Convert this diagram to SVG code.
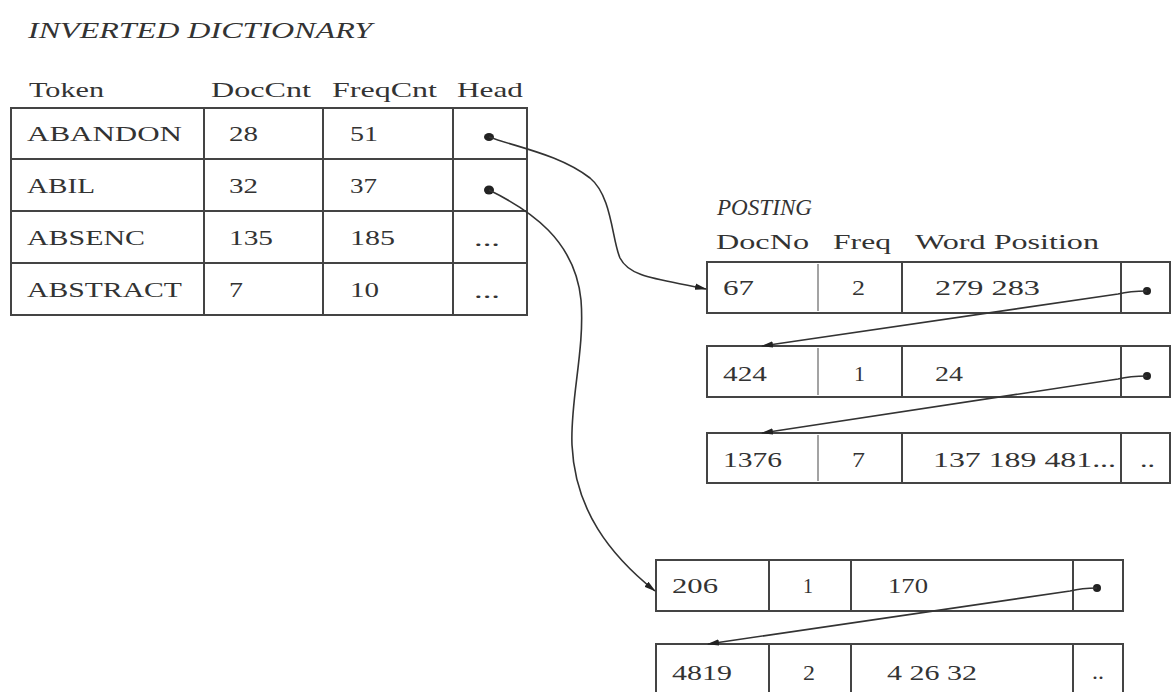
<svg xmlns="http://www.w3.org/2000/svg" width="1171" height="692" viewBox="0 0 1171 692">
  <style>
    .t { font-family: "Liberation Serif", "Times New Roman", serif; font-size: 22px; fill: #333; }
    .ti { font-family: "Liberation Serif", "Times New Roman", serif; font-size: 24px; font-style: italic; fill: #333; }
    .box { fill: #fff; stroke: #444; stroke-width: 2; }
    .div { stroke: #444; stroke-width: 2; }
    .thin { stroke: #666; stroke-width: 1.2; }
    .conn { fill: none; stroke: #333; stroke-width: 1.6; }
    .dot { fill: #222; }
  </style>
  <defs>
    <marker id="arr" markerWidth="12" markerHeight="8" refX="11" refY="4" orient="auto" markerUnits="userSpaceOnUse">
      <path d="M0,0.8 L12,4 L0,7.2 Z" fill="#222"/>
    </marker>
  </defs>
  <rect width="1171" height="692" fill="#fff"/>

  <g id="dict-title">
    <text class="ti" x="28" y="38" textLength="344" lengthAdjust="spacingAndGlyphs">INVERTED DICTIONARY</text>
  </g>
  <g id="dict-header">
    <text class="t" x="29" y="97" textLength="75" lengthAdjust="spacingAndGlyphs">Token</text>
    <text class="t" x="211" y="97" textLength="100" lengthAdjust="spacingAndGlyphs">DocCnt</text>
    <text class="t" x="332" y="97" textLength="105" lengthAdjust="spacingAndGlyphs">FreqCnt</text>
    <text class="t" x="457" y="97" textLength="66" lengthAdjust="spacingAndGlyphs">Head</text>
  </g>

  <g id="dict-abandon">
    <rect class="box" x="11" y="108" width="516" height="51"/>
    <line class="div" x1="204" y1="108" x2="204" y2="159"/>
    <line class="div" x1="323" y1="108" x2="323" y2="159"/>
    <line class="div" x1="453" y1="108" x2="453" y2="159"/>
    <text class="t" x="27" y="141" textLength="155" lengthAdjust="spacingAndGlyphs">ABANDON</text>
    <text class="t" x="229" y="141" textLength="29" lengthAdjust="spacingAndGlyphs">28</text>
    <text class="t" x="350" y="141" textLength="28" lengthAdjust="spacingAndGlyphs">51</text>
    <ellipse class="dot" cx="489" cy="137" rx="5" ry="4"/>
  </g>
  <g id="dict-abil">
    <rect class="box" x="11" y="159" width="516" height="52"/>
    <line class="div" x1="204" y1="159" x2="204" y2="211"/>
    <line class="div" x1="323" y1="159" x2="323" y2="211"/>
    <line class="div" x1="453" y1="159" x2="453" y2="211"/>
    <text class="t" x="27" y="193" textLength="68" lengthAdjust="spacingAndGlyphs">ABIL</text>
    <text class="t" x="229" y="193" textLength="29" lengthAdjust="spacingAndGlyphs">32</text>
    <text class="t" x="350" y="193" textLength="27" lengthAdjust="spacingAndGlyphs">37</text>
    <ellipse class="dot" cx="489" cy="190" rx="5" ry="4.5"/>
  </g>
  <g id="dict-absenc">
    <rect class="box" x="11" y="211" width="516" height="52"/>
    <line class="div" x1="204" y1="211" x2="204" y2="263"/>
    <line class="div" x1="323" y1="211" x2="323" y2="263"/>
    <line class="div" x1="453" y1="211" x2="453" y2="263"/>
    <text class="t" x="27" y="245" textLength="118" lengthAdjust="spacingAndGlyphs">ABSENC</text>
    <text class="t" x="229" y="245" textLength="44" lengthAdjust="spacingAndGlyphs">135</text>
    <text class="t" x="350" y="245" textLength="45" lengthAdjust="spacingAndGlyphs">185</text>
    <text class="t" x="474" y="246" textLength="26" lengthAdjust="spacingAndGlyphs">...</text>
  </g>
  <g id="dict-abstract">
    <rect class="box" x="11" y="263" width="516" height="52"/>
    <line class="div" x1="204" y1="263" x2="204" y2="315"/>
    <line class="div" x1="323" y1="263" x2="323" y2="315"/>
    <line class="div" x1="453" y1="263" x2="453" y2="315"/>
    <text class="t" x="27" y="297" textLength="155" lengthAdjust="spacingAndGlyphs">ABSTRACT</text>
    <text class="t" x="229" y="297" textLength="14" lengthAdjust="spacingAndGlyphs">7</text>
    <text class="t" x="350" y="297" textLength="29" lengthAdjust="spacingAndGlyphs">10</text>
    <text class="t" x="474" y="298" textLength="26" lengthAdjust="spacingAndGlyphs">...</text>
  </g>

  <g id="posting-title">
    <text class="ti" x="717" y="215" textLength="95" lengthAdjust="spacingAndGlyphs">POSTING</text>
  </g>
  <g id="posting-header">
    <text class="t" x="716" y="249" textLength="93" lengthAdjust="spacingAndGlyphs">DocNo</text>
    <text class="t" x="833" y="249" textLength="58" lengthAdjust="spacingAndGlyphs">Freq</text>
    <text class="t" x="915" y="249" textLength="184" lengthAdjust="spacingAndGlyphs">Word Position</text>
  </g>

  <g id="post-67">
    <rect class="box" x="707" y="262" width="463" height="51"/>
    <line class="thin" x1="818" y1="264" x2="818" y2="311"/>
    <line class="div" x1="902" y1="262" x2="902" y2="313"/>
    <line class="div" x1="1121" y1="262" x2="1121" y2="313"/>
    <text class="t" x="723" y="295" textLength="31" lengthAdjust="spacingAndGlyphs">67</text>
    <text class="t" x="852" y="295" textLength="13" lengthAdjust="spacingAndGlyphs">2</text>
    <text class="t" x="935" y="295" textLength="105" lengthAdjust="spacingAndGlyphs">279  283</text>
    <circle class="dot" cx="1147" cy="291" r="4"/>
  </g>
  <g id="post-424">
    <rect class="box" x="707" y="346" width="463" height="51"/>
    <line class="thin" x1="818" y1="348" x2="818" y2="395"/>
    <line class="div" x1="902" y1="346" x2="902" y2="397"/>
    <line class="div" x1="1121" y1="346" x2="1121" y2="397"/>
    <text class="t" x="723" y="381" textLength="44" lengthAdjust="spacingAndGlyphs">424</text>
    <text class="t" x="854" y="381" textLength="11" lengthAdjust="spacingAndGlyphs">1</text>
    <text class="t" x="935" y="381" textLength="28" lengthAdjust="spacingAndGlyphs">24</text>
    <circle class="dot" cx="1147" cy="376" r="4"/>
  </g>
  <g id="post-1376">
    <rect class="box" x="707" y="433" width="463" height="50"/>
    <line class="thin" x1="818" y1="435" x2="818" y2="481"/>
    <line class="div" x1="902" y1="433" x2="902" y2="483"/>
    <line class="div" x1="1121" y1="433" x2="1121" y2="483"/>
    <text class="t" x="723" y="467" textLength="59" lengthAdjust="spacingAndGlyphs">1376</text>
    <text class="t" x="852" y="467" textLength="13" lengthAdjust="spacingAndGlyphs">7</text>
    <text class="t" x="933" y="467" textLength="183" lengthAdjust="spacingAndGlyphs">137 189 481...</text>
    <text class="t" x="1140" y="467" textLength="15" lengthAdjust="spacingAndGlyphs">..</text>
  </g>

  <g id="post-206">
    <rect class="box" x="656" y="560" width="467" height="51"/>
    <line class="div" x1="769" y1="560" x2="769" y2="611"/>
    <line class="div" x1="851" y1="560" x2="851" y2="611"/>
    <line class="div" x1="1073" y1="560" x2="1073" y2="611"/>
    <text class="t" x="672" y="593" textLength="46" lengthAdjust="spacingAndGlyphs">206</text>
    <text class="t" x="803" y="593" textLength="10" lengthAdjust="spacingAndGlyphs">1</text>
    <text class="t" x="888" y="593" textLength="40" lengthAdjust="spacingAndGlyphs">170</text>
    <circle class="dot" cx="1097" cy="588" r="4"/>
  </g>
  <g id="post-4819">
    <rect class="box" x="656" y="644" width="467" height="54"/>
    <line class="div" x1="769" y1="644" x2="769" y2="698"/>
    <line class="div" x1="851" y1="644" x2="851" y2="698"/>
    <line class="div" x1="1073" y1="644" x2="1073" y2="698"/>
    <text class="t" x="672" y="680" textLength="60" lengthAdjust="spacingAndGlyphs">4819</text>
    <text class="t" x="803" y="680" textLength="12" lengthAdjust="spacingAndGlyphs">2</text>
    <text class="t" x="887" y="680" textLength="90" lengthAdjust="spacingAndGlyphs">4 26 32</text>
    <text class="t" x="1092" y="679" textLength="12" lengthAdjust="spacingAndGlyphs">..</text>
  </g>

  <g id="connectors">
    <path class="conn" marker-end="url(#arr)" d="M489,137 C520,148 560,155 590,178 C612,196 612,240 620,258 C630,278 660,279 706,289"/>
    <path class="conn" marker-end="url(#arr)" d="M489,190 C530,210 575,240 581,300 C585,350 570,400 572,445 C575,510 610,555 655,591"/>
    <path class="conn" marker-end="url(#arr)" d="M1147,291 Q1130,291 1118,294 L762,346"/>
    <path class="conn" marker-end="url(#arr)" d="M1147,376 Q1130,376 1118,379 L762,433"/>
    <path class="conn" marker-end="url(#arr)" d="M1097,588 Q1082,588 1070,591 L708,644"/>
  </g>
</svg>
